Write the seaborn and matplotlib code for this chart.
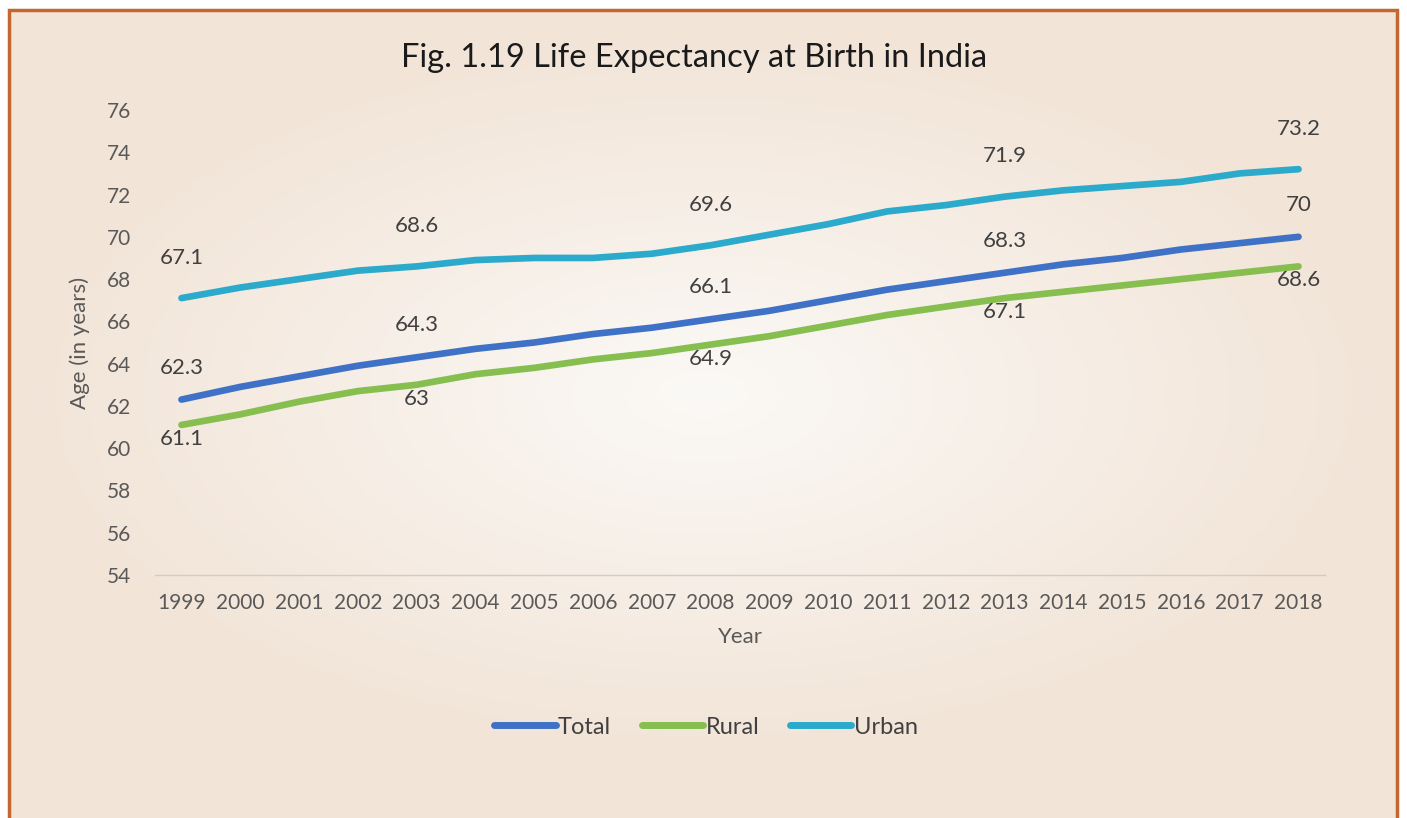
import numpy as np
import pandas as pd
import seaborn as sns
import matplotlib.pyplot as plt
from matplotlib.patches import Rectangle

years = list(range(1999, 2019))
total = [62.3, 62.9, 63.4, 63.9, 64.3, 64.7, 65.0, 65.4, 65.7, 66.1,
         66.5, 67.0, 67.5, 67.9, 68.3, 68.7, 69.0, 69.4, 69.7, 70.0]
rural = [61.1, 61.6, 62.2, 62.7, 63.0, 63.5, 63.8, 64.2, 64.5, 64.9,
         65.3, 65.8, 66.3, 66.7, 67.1, 67.4, 67.7, 68.0, 68.3, 68.6]
urban = [67.1, 67.6, 68.0, 68.4, 68.6, 68.9, 69.0, 69.0, 69.2, 69.6,
         70.1, 70.6, 71.2, 71.5, 71.9, 72.2, 72.4, 72.6, 73.0, 73.2]
label_years = [1999, 2003, 2008, 2013, 2018]

colors = {"Total": "#3F72C6", "Rural": "#86BE4F", "Urban": "#2CAACB"}

df = pd.DataFrame({
    "Year": years * 3,
    "Age": total + rural + urban,
    "Series": ["Total"] * 20 + ["Rural"] * 20 + ["Urban"] * 20,
})

sns.set_theme(style="white")
plt.rcParams["font.family"] = ["Lato", "DejaVu Sans"]

fig = plt.figure(figsize=(14.07, 8.18), dpi=100)
fig.patch.set_facecolor("white")

# background with soft radial gradient inside the border
bg = fig.add_axes([9 / 1407, 0, 1388 / 1407, 1 - 10 / 818], zorder=-10)
gx, gy = np.meshgrid(np.linspace(-1, 1, 300), np.linspace(-1, 1, 200))
r = np.clip(np.sqrt(gx ** 2 + ((gy + 0.05) * 1.1) ** 2), 0, 1)
c_in = np.array([251, 249, 246]) / 255
c_out = np.array([242, 228, 215]) / 255
img = c_in[None, None, :] * (1 - r[..., None]) + c_out[None, None, :] * r[..., None]
bg.imshow(img, aspect="auto", extent=[0, 1, 0, 1])
bg.set_axis_off()
fig.patches.append(Rectangle((9 / 1407, -0.02), 1388 / 1407, 1 - 10 / 818 + 0.02,
                             transform=fig.transFigure, fill=False,
                             edgecolor="#C5662F", linewidth=2.5, zorder=5))

ax = fig.add_axes([155 / 1407, 1 - 575 / 818, 1170 / 1407, 465 / 818])
ax.set_facecolor("none")
sns.lineplot(data=df, x="Year", y="Age", hue="Series", palette=colors,
             linewidth=4.8, ax=ax, legend=False)
for line in ax.lines:
    line.set_solid_capstyle("round")

ax.set_xlim(1998.55, 2018.45)
ax.set_ylim(54, 76)
ax.set_xticks(years)
ax.set_yticks(range(54, 77, 2))
ax.tick_params(axis="both", length=0, labelsize=15, colors="#595959")
ax.tick_params(axis="x", pad=13)
ax.tick_params(axis="y", pad=17)
for s in ["top", "right", "left"]:
    ax.spines[s].set_visible(False)
ax.spines["bottom"].set_color("#D0CCC8")
ax.spines["bottom"].set_linewidth(1)
ax.set_xlabel("Year", fontsize=16, color="#595959", labelpad=10)
ax.set_ylabel("Age (in years)", fontsize=16, color="#595959", labelpad=12)

def fmt(v):
    return f"{v:g}"

for y in label_years:
    i = years.index(y)
    ax.annotate(fmt(urban[i]), (y, urban[i]), xytext=(0, 29), textcoords="offset points",
                ha="center", va="center", fontsize=16, color="#404040")
    ax.annotate(fmt(total[i]), (y, total[i]), xytext=(0, 23), textcoords="offset points",
                ha="center", va="center", fontsize=16, color="#404040")
    ax.annotate(fmt(rural[i]), (y, rural[i]), xytext=(0, -10), textcoords="offset points",
                ha="center", va="center", fontsize=16, color="#404040")

fig.text(694 / 1407, 1 - 58 / 818, "Fig. 1.19 Life Expectancy at Birth in India",
         ha="center", va="center", fontsize=23.5, color="#1a1a1a")

handles = [plt.Line2D([], [], color=colors[k], linewidth=5, solid_capstyle="round")
           for k in ["Total", "Rural", "Urban"]]
fig.legend(handles, ["Total", "Rural", "Urban"], loc="center",
           bbox_to_anchor=(706 / 1407, 1 - 727 / 818), ncol=3, frameon=False,
           fontsize=17, handlelength=2.6, handletextpad=0.1, columnspacing=1.3,
           labelcolor="#404040")

fig.savefig("out.png", dpi=100)
